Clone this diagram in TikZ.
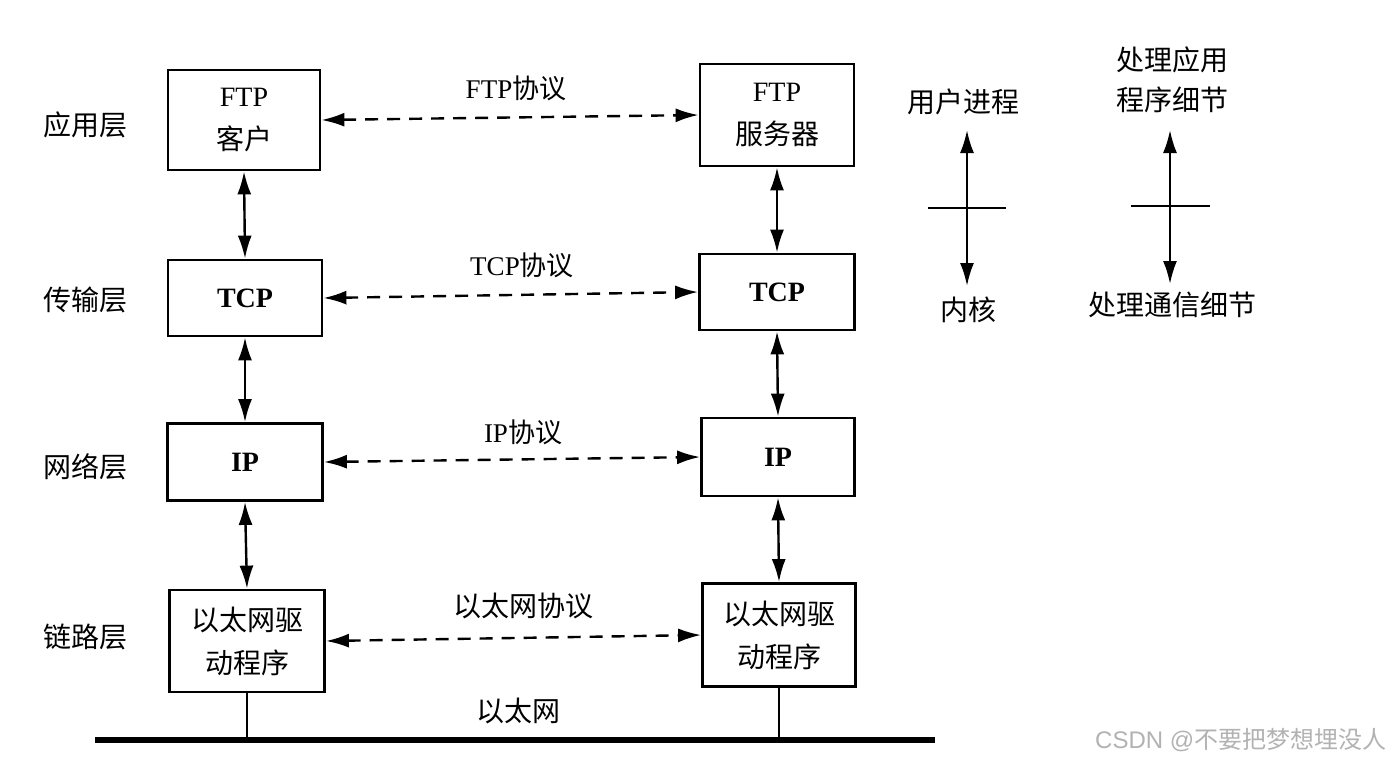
\documentclass[tikz,border=0pt]{standalone}
\usepackage{fontspec}
\setmainfont{Liberation Serif}
\newfontfamily\cjk{Noto Sans CJK SC}
\usetikzlibrary{arrows.meta}
\tikzset{
  box/.style={draw, line width=2.8pt, align=center, font=\fontsize{28}{43}\selectfont, inner sep=0pt},
  lbl/.style={font=\cjk\fontsize{28}{40}\selectfont, align=center, inner sep=0pt},
  plbl/.style={font=\fontsize{27}{30}\selectfont, inner sep=0pt},
  biarrow/.style={{Latex[length=23pt,width=14pt]}-{Latex[length=23pt,width=14pt]}, line width=2.4pt},
  dasharrow/.style={biarrow, dash pattern=on 13pt off 9pt},
  tick/.style={line width=2.4pt},
  bus/.style={line width=6pt},
  drop/.style={line width=1.8pt}
}
\begin{document}
\begin{tikzpicture}[x=1pt,y=-1pt]
\useasboundingbox (0,0) rectangle (1400,764);
% layer labels
\node[lbl] (l1) at (85,125) {应用层};
\node[lbl] (l2) at (85,300) {传输层};
\node[lbl] (l3) at (85,467) {网络层};
\node[lbl] (l4) at (85,637) {链路层};
% left stack
\node[box, minimum width=152pt, minimum height=100pt] (ftpc) at (244,120) {FTP\\{\cjk 客户}};
\node[box, minimum width=154pt, minimum height=76pt] (tcpc) at (245,298) {\bfseries TCP};
\node[box, minimum width=155pt, minimum height=77pt] (ipc) at (245,462) {\bfseries IP};
\node[box, minimum width=155pt, minimum height=102pt] (ethc) at (247,641) {\cjk 以太网驱\\\cjk 动程序};
% right stack
\node[box, minimum width=154pt, minimum height=102pt] (ftps) at (777,115) {FTP\\{\cjk 服务器}};
\node[box, minimum width=155pt, minimum height=76pt] (tcps) at (777,292) {\bfseries TCP};
\node[box, minimum width=153pt, minimum height=78pt] (ips) at (778,457) {\bfseries IP};
\node[box, minimum width=153pt, minimum height=103pt] (eths) at (779,635) {\cjk 以太网驱\\\cjk 动程序};
% vertical arrows
\draw[biarrow] (ftpc.south) -- (tcpc.north);
\draw[biarrow] (tcpc.south) -- (ipc.north);
\draw[biarrow] (ipc.south) -- (ethc.north);
\draw[biarrow] (ftps.south) -- (tcps.north);
\draw[biarrow] (tcps.south) -- (ips.north);
\draw[biarrow] (ips.south) -- (eths.north);
% protocol arrows
\draw[dasharrow] (ftpc.east) -- (ftps.west);
\draw[dasharrow] (tcpc.east) -- (tcps.west);
\draw[dasharrow] (ipc.east) -- (ips.west);
\draw[dasharrow] (ethc.east) -- (eths.west);
\node[plbl] (p1) at (516,88) {FTP{\cjk 协议}};
\node[plbl] (p2) at (522,265) {TCP{\cjk 协议}};
\node[plbl] (p3) at (523,432) {IP{\cjk 协议}};
\node[lbl] (p4) at (523,606) {以太网协议};
% ethernet bus
\coordinate (eL) at (95,740);
\coordinate (eR) at (935,740);
\draw[bus] (eL) -- (eR);
\draw[drop] (ethc.south) -- (ethc.south |- eL);
\draw[drop] (eths.south) -- (eths.south |- eL);
\node[lbl] (eth) at (518,711) {以太网};
% legend 1
\node[lbl] (up) at (963,102) {用户进程};
\node[lbl] (kn) at (968,310) {内核};
\coordinate (u1) at (967,130);
\coordinate (u2) at (967,286);
\coordinate (t1a) at (928,208);
\coordinate (t1b) at (1006,208);
\draw[biarrow] (u1) -- (u2);
\draw[tick] (t1a) -- (t1b);
% legend 2
\node[lbl] (app) at (1172,80) {处理应用\\程序细节};
\node[lbl] (com) at (1172,305) {处理通信细节};
\coordinate (v1) at (1170,130);
\coordinate (v2) at (1170,284);
\coordinate (t2a) at (1131,206);
\coordinate (t2b) at (1210,206);
\draw[biarrow] (v1) -- (v2);
\draw[tick] (t2a) -- (t2b);
% CSDN mark
\begin{scope}
\clip (1080,720) rectangle (1400,764);
\node[anchor=west, text=gray!60, inner sep=0pt, font=\fontsize{24}{26}\selectfont] (csdn) at (1095,740) {\fontspec{Liberation Sans}CSDN @{\cjk 不要把梦想埋没人}};
\end{scope}
\end{tikzpicture}
\end{document}
